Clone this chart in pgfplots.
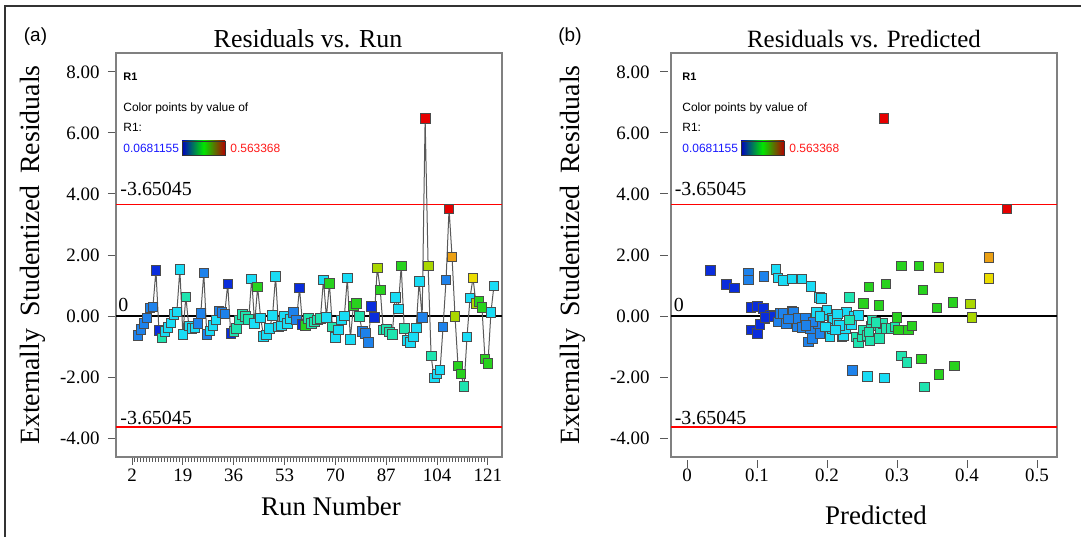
\documentclass[border=0pt]{standalone}
\usepackage{fontspec}
\setmainfont{Liberation Serif}
\newfontfamily\lsans{Liberation Sans}
\usepackage{pgfplots}
\usepackage{pgfplotstable}
\pgfplotsset{compat=1.18}

\definecolor{cDB}{RGB}{10,45,220}
\definecolor{cMB}{RGB}{30,130,235}
\definecolor{cCY}{RGB}{25,220,245}
\definecolor{cTL}{RGB}{30,228,175}
\definecolor{cGR}{RGB}{40,210,30}
\definecolor{cYG}{RGB}{170,215,0}
\definecolor{cYE}{RGB}{235,220,0}
\definecolor{cOR}{RGB}{235,160,20}
\definecolor{cRD}{RGB}{230,0,0}

\pgfplotstableread{
r v c
4 -0.63 MB
5 -0.43 MB
6 -0.24 MB
7 -0.06 MB
8 0.27 MB
9 0.30 MB
10 1.50 DB
11 -0.48 DB
12 -0.72 TL
13 -0.50 CY
14 -0.38 CY
15 -0.22 CY
16 0.05 CY
17 0.14 CY
18 1.52 CY
19 -0.60 CY
20 0.63 TL
21 -0.33 CY
22 -0.41 CY
23 -0.39 CY
24 -0.24 MB
25 0.09 MB
26 1.41 MB
27 -0.61 MB
28 -0.49 CY
29 -0.30 CY
30 -0.13 CY
31 0.17 MB
32 0.11 MB
33 0.07 MB
34 1.05 DB
35 -0.57 DB
36 -0.50 TL
37 -0.40 TL
38 -0.13 TL
39 0.06 TL
40 -0.02 TL
41 -0.11 TL
42 1.22 CY
43 -0.24 CY
44 0.95 GR
45 -0.06 CY
46 -0.66 CY
47 -0.62 CY
48 -0.41 CY
49 0.03 CY
50 1.30 CY
51 -0.35 CY
52 -0.33 CY
53 -0.02 CY
54 -0.24 CY
55 -0.10 CY
56 0.11 MB
57 -0.13 MB
58 0.92 DB
59 -0.27 DB
60 -0.30 GR
61 -0.08 TL
62 -0.25 TL
63 -0.19 TL
64 -0.13 TL
65 -0.08 TL
66 1.19 CY
67 -0.04 CY
68 1.06 GR
69 -0.35 TL
70 -0.71 CY
71 -0.46 CY
72 -0.13 CY
73 0.00 CY
74 1.25 CY
75 -0.77 CY
76 0.33 GR
77 0.42 GR
78 -0.02 TL
79 -0.50 MB
80 -0.57 MB
81 -0.87 MB
82 0.31 DB
83 -0.04 DB
84 1.58 YG
85 0.86 GR
86 -0.46 TL
87 -0.43 TL
88 -0.52 TL
89 -0.60 TL
90 0.61 CY
91 0.23 CY
92 1.64 GR
93 -0.41 TL
94 -0.80 CY
95 -0.87 CY
96 -0.69 CY
97 -0.39 CY
98 1.14 CY
99 -0.04 MB
100 6.47 RD
101 1.64 YG
102 -1.31 TL
103 -2.03 CY
104 -1.90 CY
105 -1.77 CY
106 -0.35 MB
107 1.19 MB
108 3.51 RD
109 1.94 OR
110 -0.02 YG
111 -1.64 GR
112 -1.90 GR
113 -2.31 TL
114 -0.69 CY
115 0.59 CY
116 1.25 YE
117 0.42 YG
118 0.48 GR
119 0.28 GR
120 -1.40 GR
121 -1.55 GR
122 0.12 CY
123 0.99 CY
}\runs

\pgfplotstableread{
p v c
0.033 1.50 DB
0.056 1.03 DB
0.068 0.92 DB
0.091 0.29 DB
0.1005 0.31 DB
0.109 0.25 DB
0.111 -0.08 DB
0.119 0.03 DB
0.124 -0.02 DB
0.091 -0.46 DB
0.1005 -0.57 DB
0.104 -0.27 DB
0.111 -0.04 DB
0.088 1.41 MB
0.088 1.19 MB
0.110 1.30 MB
0.130 -0.19 MB
0.133 0.09 MB
0.138 0.09 MB
0.142 -0.24 MB
0.150 0.17 MB
0.152 0.11 MB
0.157 -0.35 MB
0.159 -0.08 MB
0.165 -0.38 MB
0.169 -0.06 MB
0.173 -0.85 MB
0.179 -0.74 MB
0.176 -0.41 MB
0.188 -0.24 MB
0.190 -0.57 MB
0.180 -0.19 MB
0.236 -1.79 MB
0.145 -0.10 MB
0.170 -0.30 MB
0.127 1.52 CY
0.130 1.25 CY
0.138 1.17 CY
0.150 1.22 CY
0.164 1.22 CY
0.177 0.97 CY
0.189 0.62 CY
0.192 0.57 CY
0.185 0.11 CY
0.195 0.00 CY
0.200 0.20 CY
0.204 -0.66 CY
0.207 -0.08 CY
0.209 -0.13 CY
0.208 -0.41 CY
0.214 -0.19 CY
0.221 -0.69 CY
0.223 -0.63 CY
0.226 -0.41 CY
0.228 0.14 CY
0.235 -0.27 CY
0.239 0.00 CY
0.245 0.03 CY
0.258 -1.98 CY
0.282 -2.03 CY
0.215 0.07 CY
0.218 -0.30 CY
0.190 -0.02 CY
0.212 -0.45 CY
0.198 -0.35 CY
0.232 0.62 TL
0.232 -0.13 TL
0.242 -0.69 TL
0.245 -0.88 TL
0.250 -0.69 TL
0.252 -0.46 TL
0.257 -0.63 TL
0.261 -0.80 TL
0.263 -0.33 TL
0.264 -0.13 TL
0.275 -0.74 TL
0.276 -0.41 TL
0.280 -0.24 TL
0.284 -0.41 TL
0.292 -0.41 TL
0.297 -0.35 TL
0.306 -1.31 TL
0.314 -1.52 TL
0.339 -2.32 TL
0.260 -0.52 TL
0.270 -0.20 TL
0.252 0.42 GR
0.260 0.95 GR
0.274 0.35 GR
0.284 1.05 GR
0.306 1.64 GR
0.331 1.64 GR
0.337 0.86 GR
0.357 0.27 GR
0.380 0.45 GR
0.300 -0.04 GR
0.302 -0.46 GR
0.316 -0.46 GR
0.321 -0.32 GR
0.335 -1.40 GR
0.360 -1.91 GR
0.382 -1.64 GR
0.360 1.59 YG
0.405 0.40 YG
0.407 -0.04 YG
0.431 1.24 YE
0.431 1.93 OR
0.457 3.51 RD
0.281 6.47 RD
}\pred

\pgfplotsset{
  resaxis/.style={
    scale only axis, width=193bp, height=202bp, anchor=south west,
    ymin=-4.62, ymax=8.62,
    ytick={-4,-2,0,2,4,6,8},
    yticklabels={-4.00,-2.00,0.00,2.00,4.00,6.00,8.00},
    xtick pos=bottom, ytick pos=left,
    tick align=outside, major tick length=4bp, minor tick length=2.5bp,
    axis line style={black!50, line width=0.7bp},
    tick style={black!65, line width=0.5bp},
    tick label style={font=\fontsize{9.5}{10}\selectfont},
    xticklabel style={anchor=north, inner sep=0pt, yshift=-2bp},
    every axis y label/.style={rotate=90, anchor=center, font=\fontsize{14}{15}\selectfont},
    every axis x label/.style={anchor=center, font=\fontsize{13.5}{15}\selectfont},
    scatter/classes={
      DB={mark=square*, fill=cDB, draw=black!70},
      MB={mark=square*, fill=cMB, draw=black!70},
      CY={mark=square*, fill=cCY, draw=black!70},
      TL={mark=square*, fill=cTL, draw=black!70},
      GR={mark=square*, fill=cGR, draw=black!70},
      YG={mark=square*, fill=cYG, draw=black!70},
      YE={mark=square*, fill=cYE, draw=black!70},
      OR={mark=square*, fill=cOR, draw=black!70},
      RD={mark=square*, fill=cRD, draw=black!70}},
  },
}

\begin{document}
\begin{tikzpicture}
\useasboundingbox (0,0) rectangle (540.5bp,268.5bp);
\draw[black!80, line width=1.2bp] (2.5bp,0) -- (2.5bp,265.5bp) -- (540.5bp,265.5bp);

% ---------- (a) ----------
\begin{axis}[resaxis, at={(58bp,40bp)},
  xmin=-3.35, xmax=125.7,
  xtick={2,19,36,53,70,87,104,121},
  xticklabels={2,19,36,53,70,87,104,121},
  minor x tick num=16,
  yticklabel style={anchor=east, inner sep=0pt, xshift=-4bp},
  xlabel={Run Number}, xlabel style={at={(axis description cs:0.557,-0.121)}},
  ylabel={Externally\, Studentized\, Residuals}, ylabel style={at={(axis description cs:-0.215,0.5)}},
]
\addplot[draw=red, line width=0.8bp, mark=none] coordinates {(-3.35,3.65045) (125.7,3.65045)};
\addplot[draw=red, line width=0.85bp, mark=none] coordinates {(-3.35,-3.63) (125.7,-3.63)};
\addplot[black, line width=0.8bp, mark=none] coordinates {(-3.35,0) (125.7,0)};
\addplot[black!65, line width=0.5bp, mark=none] table[x=r, y=v] {\runs};
\addplot[scatter, only marks, mark size=2.4bp, mark options={line width=0.4bp},
  point meta=explicit symbolic] table[x=r, y=v, meta=c] {\runs};
\node[anchor=base west, inner sep=0pt, font=\fontsize{10}{11}\selectfont] at (axis cs:-2.0,3.65045) [yshift=4.5bp] {-3.65045};
\node[anchor=base west, inner sep=0pt, font=\fontsize{10}{11}\selectfont] at (axis cs:-2.0,-3.65045) [yshift=1.5bp] {-3.65045};
\node[anchor=base west, inner sep=0pt, font=\fontsize{10}{11}\selectfont] at (axis cs:-2.7,0) [yshift=2.5bp] {0};
\end{axis}

% ---------- (b) ----------
\begin{axis}[resaxis, at={(335.5bp,40bp)},
  xmin=-0.0229, xmax=0.5286,
  xtick={0,0.1,0.2,0.3,0.4,0.5},
  xticklabels={0,0.1,0.2,0.3,0.4,0.5},
  xtick style={yshift=-1.5bp},
  ytick style={xshift=-1.5bp},
  yticklabel style={anchor=east, inner sep=0pt, xshift=-6.5bp},
  xlabel={Predicted}, xlabel style={at={(axis description cs:0.531,-0.144)}},
  ylabel={Externally\, Studentized\, Residuals}, ylabel style={at={(axis description cs:-0.254,0.5)}},
]
\addplot[draw=red, line width=0.8bp, mark=none] coordinates {(-0.0229,3.65045) (0.5286,3.65045)};
\addplot[draw=red, line width=0.85bp, mark=none] coordinates {(-0.0229,-3.63) (0.5286,-3.63)};
\addplot[black, line width=0.8bp, mark=none] coordinates {(-0.0229,0) (0.5286,0)};
\addplot[scatter, only marks, mark size=2.4bp, mark options={line width=0.4bp},
  point meta=explicit symbolic] table[x=p, y=v, meta=c] {\pred};
\node[anchor=base west, inner sep=0pt, font=\fontsize{10}{11}\selectfont] at (axis cs:-0.018,3.65045) [yshift=4.5bp] {-3.65045};
\node[anchor=base west, inner sep=0pt, font=\fontsize{10}{11}\selectfont] at (axis cs:-0.018,-3.65045) [yshift=1.5bp] {-3.65045};
\node[anchor=base west, inner sep=0pt, font=\fontsize{10}{11}\selectfont] at (axis cs:-0.0195,0) [yshift=2.5bp] {0};
\end{axis}

% titles and panel letters
\node[anchor=base, font=\fontsize{13}{14}\selectfont] at (154bp,244.5bp) {Residuals vs. Run};
\node[anchor=base, font=\fontsize{12.5}{14}\selectfont] at (432bp,244.5bp) {Residuals vs. Predicted};
\node[font=\lsans\fontsize{9.5}{11}\selectfont] at (17.75bp,250.25bp) {(a)};
\node[font=\lsans\fontsize{9.5}{11}\selectfont] at (285bp,250.25bp) {(b)};

% colour legends inside the panels
\foreach \dx in {0bp,279.5bp}{
  \begin{scope}[xshift=\dx]
  \node[anchor=west, inner sep=0pt, font=\lsans\bfseries\fontsize{5.5}{6}\selectfont] at (61.5bp,230bp) {R1};
  \node[anchor=west, inner sep=0pt, font=\lsans\fontsize{6}{7}\selectfont] at (61.5bp,214.5bp) {Color points by value of};
  \node[anchor=west, inner sep=0pt, font=\lsans\fontsize{6}{7}\selectfont] at (61.5bp,205bp) {R1:};
  \node[anchor=west, inner sep=0pt, font=\lsans\fontsize{6}{7}\selectfont, text=blue!90!white] at (61.5bp,194.5bp) {0.0681155};
  \shade[left color=blue!75!black, right color=red!70!black, middle color=green!90!black] (91bp,191bp) rectangle (112.5bp,198bp);
  \draw[black!80, line width=0.4bp] (91bp,191bp) rectangle (112.5bp,198bp);
  \node[anchor=west, inner sep=0pt, font=\lsans\fontsize{6}{7}\selectfont, text=red!90!white] at (115bp,194.5bp) {0.563368};
  \end{scope}
}
\end{tikzpicture}
\end{document}
